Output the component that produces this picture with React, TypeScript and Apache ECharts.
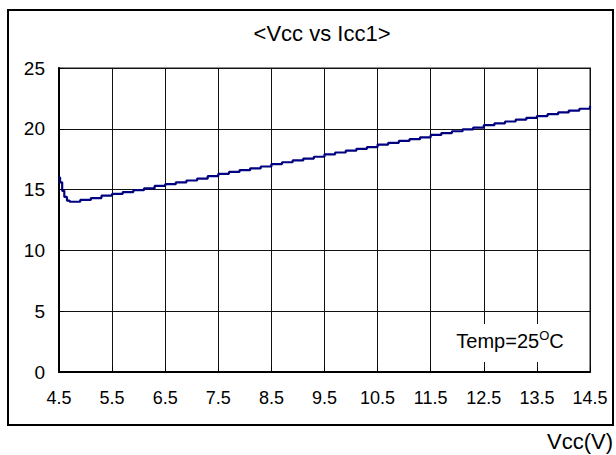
import React, { useEffect, useRef } from "react";
import * as echarts from "echarts";

const titleText = "<Vcc vs Icc1>";
const xAxisName = "Vcc(V)";
const noteMain = "Temp=25";
const noteSup = "O";
const noteUnit = "C";

const xMin = 4.5;
const xMax = 14.5;
const xStep = 1;
const yMin = 0;
const yMax = 25;
const yStep = 5;

const vcc = [
  4.5, 4.52, 4.56, 4.6, 4.65, 4.7, 4.8, 4.9, 5.1, 5.3, 5.5, 5.7, 5.9, 6.1, 6.3,
  6.5, 6.7, 6.9, 7.1, 7.3, 7.5, 7.7, 7.9, 8.1, 8.3, 8.5, 8.7, 8.9, 9.1, 9.3,
  9.5, 9.7, 9.9, 10.1, 10.3, 10.5, 10.7, 10.9, 11.1, 11.3, 11.5, 11.7, 11.9,
  12.1, 12.3, 12.5, 12.7, 12.9, 13.1, 13.3, 13.5, 13.7, 13.9, 14.1, 14.3, 14.5,
];
const icc1 = [
  16.0, 15.6, 14.9, 14.4, 14.1, 14.0, 14.0, 14.15, 14.3, 14.5, 14.65, 14.8,
  14.95, 15.1, 15.3, 15.45, 15.6, 15.75, 15.9, 16.1, 16.3, 16.45, 16.6, 16.75,
  16.9, 17.1, 17.25, 17.4, 17.55, 17.7, 17.9, 18.05, 18.2, 18.35, 18.5, 18.7,
  18.85, 19.0, 19.15, 19.3, 19.5, 19.65, 19.8, 19.95, 20.1, 20.3, 20.45, 20.6,
  20.75, 20.9, 21.05, 21.2, 21.35, 21.5, 21.65, 21.9,
];

const FONT = "'Liberation Sans', Arial, sans-serif";

export default function App() {
  const ref = useRef<HTMLDivElement>(null);
  useEffect(() => {
    document.body.style.margin = "0";
    const chart = echarts.init(ref.current!, null, { renderer: "svg" });
    const data = vcc.map((x, i) => [x, icc1[i]]);
    chart.setOption({
      animation: false,
      backgroundColor: "#fff",
      textStyle: { fontFamily: FONT },
      grid: {
        left: 59,
        top: 68,
        right: 26,
        bottom: 83,
        show: true,
        borderColor: "#8c8c8c",
        borderWidth: 2,
        backgroundColor: "transparent",
      },
      xAxis: {
        type: "value",
        min: xMin,
        max: xMax,
        interval: xStep,
        axisLine: { show: true, onZero: false, lineStyle: { color: "#000", width: 2 } },
        axisTick: { show: true, inside: true, length: 5, lineStyle: { color: "#000" } },
        axisLabel: {
          color: "#000",
          fontSize: 18,
          fontFamily: FONT,
          margin: 17,
          formatter: (v: number) => v.toFixed(1),
        },
        splitLine: { show: true, lineStyle: { color: "#111", width: 1 } },
      },
      yAxis: {
        type: "value",
        min: yMin,
        max: yMax,
        interval: yStep,
        axisLine: { show: true, lineStyle: { color: "#000", width: 2 } },
        axisTick: { show: true, inside: true, length: 5, lineStyle: { color: "#000" } },
        axisLabel: { color: "#000", fontSize: 19, fontFamily: FONT, margin: 14 },
        splitLine: { show: true, lineStyle: { color: "#111", width: 1 } },
      },
      series: [
        {
          type: "line",
          data,
          step: "end",
          symbol: "none",
          lineStyle: { color: "#000080", width: 2.2 },
          z: 5,
        },
      ],
      graphic: [
        {
          type: "rect",
          shape: { x: 8, y: 10, width: 605, height: 415 },
          style: { fill: "none", stroke: "#000", lineWidth: 2 },
          z: 20,
        },
        {
          type: "rect",
          shape: { x: 442, y: 324, width: 145, height: 38 },
          style: { fill: "#fff" },
          z: 10,
        },
        {
          type: "text",
          x: 510,
          y: 341,
          z: 11,
          style: {
            text: `{m|${noteMain}}{s|${noteSup}}{m|${noteUnit}}`,
            align: "center",
            verticalAlign: "middle",
            rich: {
              m: { fontSize: 20, fontFamily: FONT, fill: "#000", color: "#000" },
              s: { fontSize: 13, fontFamily: FONT, fill: "#000", color: "#000", padding: [0, 0, 11, 0] },
            },
          },
        },
        {
          type: "text",
          x: 322,
          y: 33,
          z: 11,
          style: {
            text: titleText,
            align: "center",
            verticalAlign: "middle",
            fontSize: 22,
            fontFamily: FONT,
            fill: "#000",
          },
        },
        {
          type: "text",
          x: 613,
          y: 441,
          z: 11,
          style: {
            text: xAxisName,
            align: "right",
            verticalAlign: "middle",
            fontSize: 22,
            fontFamily: FONT,
            fill: "#000",
          },
        },
      ],
    });
    return () => chart.dispose();
  }, []);
  return <div ref={ref} style={{ width: 616, height: 455 }} />;
}
